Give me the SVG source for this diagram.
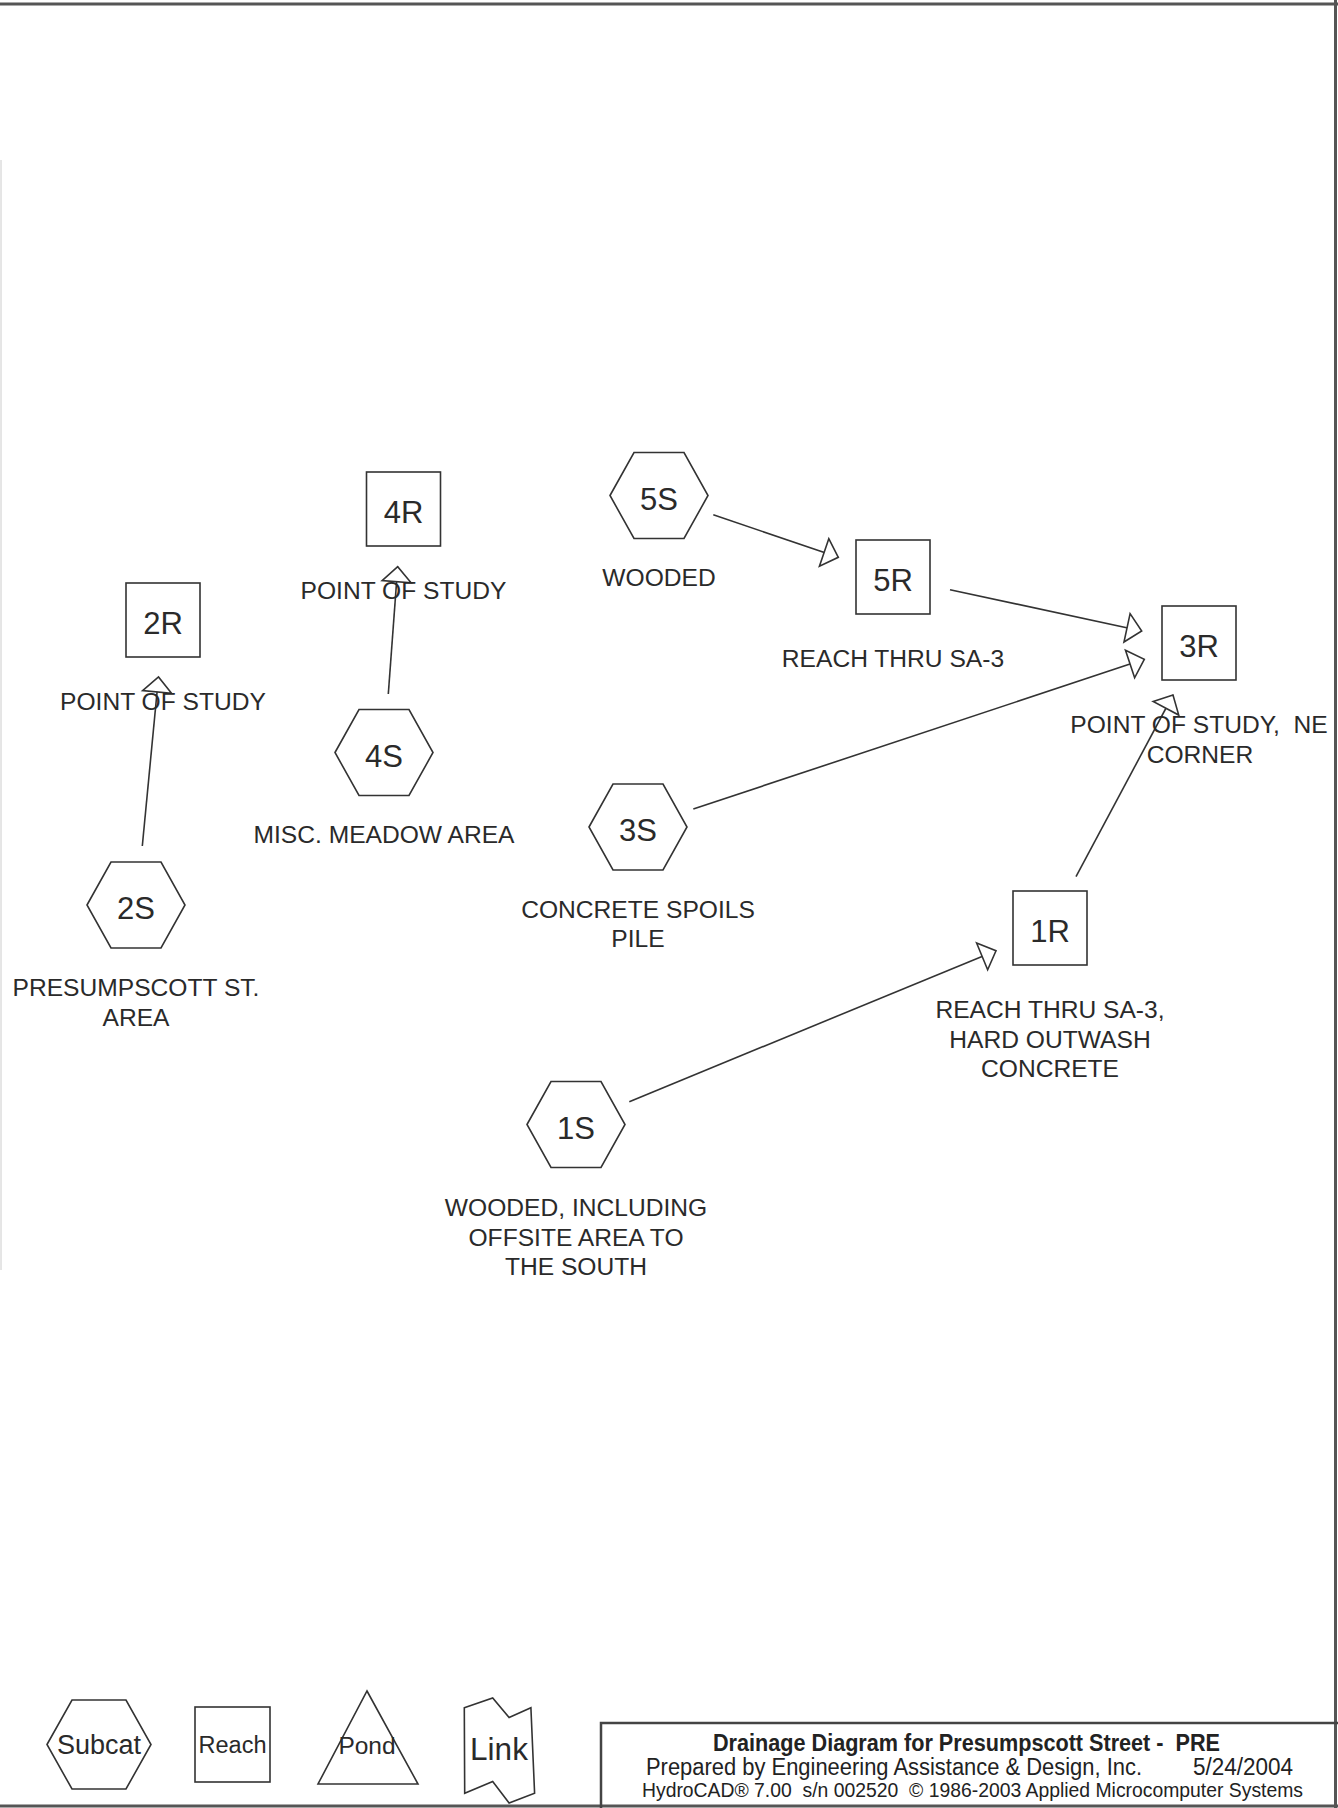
<svg xmlns="http://www.w3.org/2000/svg" width="1338" height="1808" viewBox="0 0 1338 1808">
<style>
.hex,.box,.shape{fill:#fff;stroke:#333;stroke-width:1.6}
.id{font-family:"Liberation Sans",Arial,sans-serif;font-size:31px;fill:#2a2a2a;text-anchor:middle}
.lbl{font-family:"Liberation Sans",Arial,sans-serif;font-size:24.6px;fill:#2a2a2a;text-anchor:middle}
.con{fill:none;stroke:#333;stroke-width:1.6;marker-end:url(#arr)}
.leg{font-family:"Liberation Sans",Arial,sans-serif;fill:#2a2a2a;text-anchor:middle}
.tb{font-family:"Liberation Sans",Arial,sans-serif;fill:#222}
.frame{fill:none;stroke:#555;stroke-width:3}
</style>
<defs>
<marker id="arr" markerUnits="userSpaceOnUse" viewBox="-2 -17 19 34" refX="15" refY="0" markerWidth="19" markerHeight="34" orient="auto">
<path d="M0,-14.5 L15,0 L0,14.5 Z" fill="#fff" stroke="#333" stroke-width="1.6"/>
</marker>
</defs>
<rect width="1338" height="1808" fill="#fff"/>
<g id="page-frame">
<line class="frame" x1="0" y1="4" x2="1338" y2="4"/>
<line class="frame" x1="1335.5" y1="0" x2="1335.5" y2="1808"/>
<line class="frame" x1="0" y1="1806" x2="1338" y2="1806"/>
<line x1="1" y1="160" x2="1" y2="1270" stroke="#ccc" stroke-width="1"/>
</g>
<g id="connectors">
<line class="con" x1="142.3" y1="846" x2="158.5" y2="677"/>
<line class="con" x1="388.3" y1="694" x2="397.7" y2="566.7"/>
<line class="con" x1="713.3" y1="514.7" x2="838.3" y2="557.3"/>
<line class="con" x1="950" y1="589.7" x2="1141.7" y2="631"/>
<line class="con" x1="693.3" y1="809" x2="1144.3" y2="659.3"/>
<line class="con" x1="629.3" y1="1101.7" x2="996" y2="950.7"/>
<line class="con" x1="1076" y1="876.7" x2="1173" y2="695"/>
</g>
<g id="node-2R">
<rect class="box" x="126" y="583" width="74" height="74"/>
<text class="id" x="163" y="634">2R</text>
<text class="lbl" x="163" y="710">POINT OF STUDY</text>
</g>
<g id="node-4R">
<rect class="box" x="366.5" y="472" width="74" height="74"/>
<text class="id" x="403.5" y="523">4R</text>
<text class="lbl" x="403.5" y="599">POINT OF STUDY</text>
</g>
<g id="node-5R">
<rect class="box" x="856" y="540" width="74" height="74"/>
<text class="id" x="893" y="591">5R</text>
<text class="lbl" x="893" y="667">REACH THRU SA-3</text>
</g>
<g id="node-3R">
<rect class="box" x="1162" y="606" width="74" height="74"/>
<text class="id" x="1199" y="657">3R</text>
<text class="lbl" x="1199" y="733" xml:space="preserve">POINT OF STUDY,  NE</text>
<text class="lbl" x="1200" y="762.5">CORNER</text>
</g>
<g id="node-1R">
<rect class="box" x="1013" y="891" width="74" height="74"/>
<text class="id" x="1050" y="942">1R</text>
<text class="lbl" x="1050" y="1018">REACH THRU SA-3,</text>
<text class="lbl" x="1050" y="1047.5">HARD OUTWASH</text>
<text class="lbl" x="1050" y="1077">CONCRETE</text>
</g>
<g id="node-2S">
<polygon class="hex" points="87,905 111,862 161,862 185,905 161,948 111,948"/>
<text class="id" x="136" y="919">2S</text>
<text class="lbl" x="136" y="996">PRESUMPSCOTT ST.</text>
<text class="lbl" x="136" y="1026">AREA</text>
</g>
<g id="node-4S">
<polygon class="hex" points="335,752.5 359,709.5 409,709.5 433,752.5 409,795.5 359,795.5"/>
<text class="id" x="384" y="766.5">4S</text>
<text class="lbl" x="384" y="842.5">MISC. MEADOW AREA</text>
</g>
<g id="node-5S">
<polygon class="hex" points="610,495.5 634,452.5 684,452.5 708,495.5 684,538.5 634,538.5"/>
<text class="id" x="659" y="509.5">5S</text>
<text class="lbl" x="659" y="585.5">WOODED</text>
</g>
<g id="node-3S">
<polygon class="hex" points="589,827 613,784 663,784 687,827 663,870 613,870"/>
<text class="id" x="638" y="841">3S</text>
<text class="lbl" x="638" y="917.5">CONCRETE SPOILS</text>
<text class="lbl" x="638" y="947">PILE</text>
</g>
<g id="node-1S">
<polygon class="hex" points="527,1124.5 551,1081.5 601,1081.5 625,1124.5 601,1167.5 551,1167.5"/>
<text class="id" x="576" y="1138.5">1S</text>
<text class="lbl" x="576" y="1216">WOODED, INCLUDING</text>
<text class="lbl" x="576" y="1245.5">OFFSITE AREA TO</text>
<text class="lbl" x="576" y="1275">THE SOUTH</text>
</g>
<g id="legend">
<g id="legend-subcat">
<polygon class="shape" points="47,1744.5 72,1700 126,1700 151,1744.5 126,1789 72,1789"/>
<text class="leg" x="99" y="1754" font-size="27">Subcat</text>
</g>
<g id="legend-reach">
<rect class="shape" x="195" y="1707" width="75" height="75"/>
<text class="leg" x="232.5" y="1753" font-size="23.5">Reach</text>
</g>
<g id="legend-pond">
<polygon class="shape" points="367,1691 418,1784 318,1784"/>
<text class="leg" x="367" y="1754" font-size="24.5">Pond</text>
</g>
<g id="legend-link">
<polygon class="shape" points="464.3,1707.7 492.7,1698 509.1,1717.5 530.9,1707.7 534.6,1793.3 509.1,1803 492.7,1781.6 464.7,1793.3"/>
<text class="leg" x="499" y="1760" font-size="31.5">Link</text>
</g>
</g>
<g id="title-block">
<polyline points="601,1808 601,1723 1338,1723" fill="none" stroke="#444" stroke-width="2.5"/>
<text class="tb" x="966.5" y="1751" font-size="23" font-weight="bold" text-anchor="middle" textLength="507" lengthAdjust="spacingAndGlyphs" xml:space="preserve">Drainage Diagram for Presumpscott Street -  PRE</text>
<text class="tb" x="646" y="1775" font-size="23" textLength="496" lengthAdjust="spacingAndGlyphs">Prepared by Engineering Assistance &amp; Design, Inc.</text>
<text class="tb" x="1293" y="1775" font-size="23" text-anchor="end" textLength="100" lengthAdjust="spacingAndGlyphs">5/24/2004</text>
<text class="tb" x="642" y="1797" font-size="20" textLength="661" lengthAdjust="spacingAndGlyphs" xml:space="preserve">HydroCAD® 7.00  s/n 002520  © 1986-2003 Applied Microcomputer Systems</text>
</g>
</svg>
